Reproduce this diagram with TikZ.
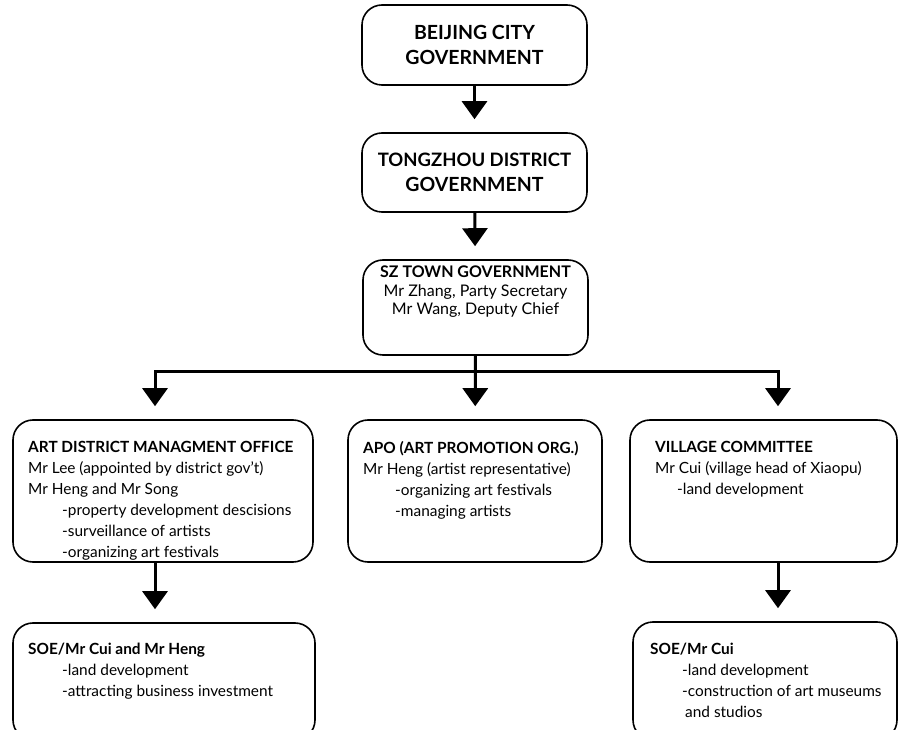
\documentclass[tikz,border=0pt]{standalone}
\usepackage{fontspec}
\setmainfont{Lato}
\usetikzlibrary{arrows.meta}
\tikzset{
  nd_box/.style={rectangle,rounded corners=20pt,draw=black,line width=1.6pt,inner sep=0pt},
  nd_top/.style={align=center,font=\fontsize{19.5}{25}\selectfont\bfseries},
  nd_town/.style={anchor=north,align=center,inner sep=0pt,font=\fontsize{16}{18.5}\selectfont},
  nd_txt/.style={anchor=north west,align=left,inner sep=0pt,font=\fontsize{15.4}{21}\selectfont},
  arr/.style={-{Triangle[length=18pt,width=25pt]},line width=3pt,shorten >=13pt},
}
\newcommand{\ind}[1]{\hspace*{#1pt}}

\begin{document}
\begin{tikzpicture}[x=1pt,y=-1pt]
\useasboundingbox (0,0) rectangle (898,730);
\clip (0,0) rectangle (898,730);
% top chain
\node[nd_box,nd_top,minimum width=225pt,minimum height=80pt] at (474.5,45)(BJ){BEIJING CITY\\GOVERNMENT};
\node[nd_box,nd_top,minimum width=225pt,minimum height=79pt] at (474.5,172.5)(TZ){\fontsize{18.5}{25}\selectfont TONGZHOU DISTRICT\\GOVERNMENT};
\node[nd_box,minimum width=225pt,minimum height=95pt] at (475.5,307.5)(SZ){};
\node[nd_town] at (475.5,266)(SZt){\textbf{SZ TOWN GOVERNMENT}\\Mr Zhang, Party Secretary\\Mr Wang, Deputy Chief};
% branch points
\coordinate (jL) at (155,372);
\coordinate (jM) at (475,372);
\coordinate (jR) at (778,372);
% row 1
\node[nd_box,minimum width=300pt,minimum height=142pt] at (163,491)(ADM){};
\node[nd_txt] at (28,441)(ADMt){\textbf{ART DISTRICT MANAGMENT OFFICE}\\
  Mr Lee (appointed by district gov't)\\
  Mr Heng and Mr Song\\
  \ind{34}-property development descisions\\
  \ind{34}-surveillance of artists\\
  \ind{34}-organizing art festivals};
\node[nd_box,minimum width=254pt,minimum height=142pt] at (475,491)(APO){};
\node[nd_txt] at (363,441)(APOt){\textbf{APO (ART PROMOTION ORG.)}\\
  Mr Heng (artist representative)\\
  \ind{32}-organizing art festivals\\
  \ind{32}-managing artists};
\node[nd_box,minimum width=267pt,minimum height=142pt] at (763.5,491)(VC){};
\node[nd_txt] at (655,441)(VCt){\textbf{VILLAGE COMMITTEE}\\
  Mr Cui (village head of Xiaopu)\\
  \ind{22}-land development};
% row 2
\node[nd_box,minimum width=302pt,minimum height=117pt] at (164,681.5)(SOEa){};
\node[nd_txt] at (28,643)(SOEat){\textbf{SOE/Mr Cui and Mr Heng}\\
  \ind{34}-land development\\
  \ind{34}-attracting business investment};
\node[nd_box,minimum width=264pt,minimum height=118pt] at (765,681)(SOEb){};
\node[nd_txt] at (650,643)(SOEbt){\textbf{SOE/Mr Cui}\\
  \ind{32}-land development\\
  \ind{32}-construction of art museums\\
  \ind{35}and studios};
% arrows
\draw[arr](BJ)--(TZ);
\draw[arr](TZ)--(SZ);
\draw[arr](SZ)--(APO);
\draw[arr](jM)-|(jL|-ADM.north);
\draw[arr](jM)-|(jR|-VC.north);
\draw[arr](ADM.south-|jL)--(SOEa.north-|jL);
\draw[arr](VC.south-|jR)--(SOEb.north-|jR);
\end{tikzpicture}
\end{document}
